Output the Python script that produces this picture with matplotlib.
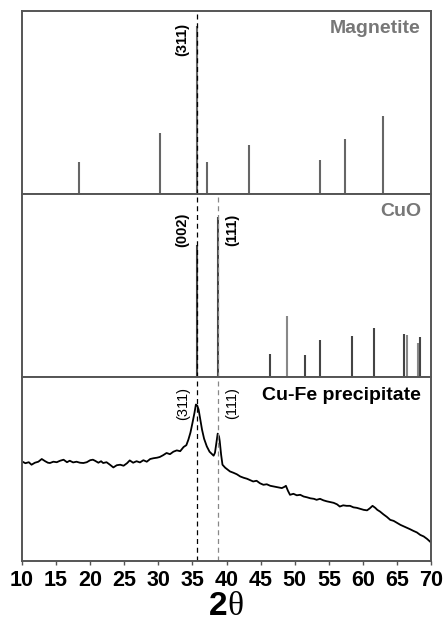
import matplotlib.pyplot as plt
import numpy as np

plt.rcParams['font.family'] = ['Liberation Sans', 'DejaVu Sans']

# reference pattern: magnetite
mag_pos = [18.4, 30.3, 35.6, 37.2, 43.3, 53.7, 57.3, 62.9]
mag_int = [19, 36.6, 100, 19, 29.4, 20, 33, 46.6]

# reference pattern: CuO
cuo_pos = [35.6, 38.8, 46.4, 48.9, 51.5, 53.7, 58.4, 61.6, 66.0, 66.5, 68.0, 68.4]
cuo_int = [82.4, 100, 14.5, 37.9, 13.9, 23, 25.9, 31, 27, 26.5, 21.4, 25.3]
cuo_light = [False, False, False, True, False, False, False, False, False, True, True, False]

# measured pattern: Cu-Fe precipitate
two_theta = [10.0, 10.5, 11.0, 11.4, 11.9, 12.4, 12.9, 13.4, 13.8, 14.1, 14.6, 15.1,
             15.6, 16.1, 16.6, 17.0, 17.5, 18.0, 18.5, 19.0, 19.5, 20.0, 20.4, 20.7,
             21.2, 21.6, 21.9, 22.4, 22.9, 23.4, 23.9, 24.4, 24.9, 25.4, 25.8, 26.3,
             26.8, 27.3, 27.8, 28.3, 28.8, 29.3, 29.8, 30.2, 30.7, 31.2, 31.7, 32.2,
             32.7, 33.2, 33.7, 34.1, 34.4, 34.7, 35.0, 35.3, 35.5, 35.7, 35.9, 36.1,
             36.4, 36.7, 37.1, 37.5, 38.1, 38.3, 38.5, 38.7, 38.9, 39.0, 39.2, 39.4,
             39.8, 40.5, 41.0, 41.5, 42.0, 42.5, 43.0, 43.5, 43.9, 44.4, 44.9, 45.4,
             45.9, 46.4, 46.9, 47.4, 48.1, 48.5, 48.7, 49.0, 49.3, 49.8, 50.3, 50.8,
             51.3, 51.8, 52.3, 52.8, 53.2, 53.7, 54.2, 54.7, 55.2, 55.7, 56.2, 56.6,
             57.1, 57.6, 58.1, 58.6, 59.1, 59.6, 60.1, 60.6, 61.0, 61.4, 61.8, 62.1,
             62.5, 63.0, 63.5, 64.0, 64.5, 65.0, 65.5, 66.0, 66.5, 66.9, 67.4, 67.9,
             68.4, 68.9, 69.4, 70.0]
counts = [99.3, 97.5, 98.5, 96.0, 98.0, 99.0, 101.7, 99.5, 98.0, 97.7, 99.0, 98.5,
          100.0, 101.0, 98.5, 100.0, 98.3, 99.0, 98.0, 97.7, 98.5, 100.5, 101.0, 100.0,
          98.0, 99.5, 97.7, 98.5, 96.0, 93.3, 95.5, 96.0, 95.0, 97.5, 100.3, 98.0,
          99.5, 98.3, 100.5, 99.0, 101.7, 102.5, 103.0, 103.7, 105.5, 107.7, 106.5, 109.0,
          110.3, 109.5, 113.7, 115.5, 121.0, 128.0, 137.7, 148.0, 156.0, 155.0, 151.0, 143.0,
          131.0, 122.0, 114.3, 109.0, 105.0, 108.0, 117.7, 127.0, 124.0, 119.3, 106.0, 96.0,
          93.0, 89.3, 88.0, 86.5, 84.3, 83.0, 82.0, 80.5, 79.3, 80.0, 77.5, 76.0,
          76.5, 75.0, 74.3, 73.5, 72.7, 74.0, 75.0, 70.0, 66.0, 67.0, 65.5, 66.0,
          64.3, 63.5, 62.5, 62.0, 61.0, 62.0, 60.5, 59.5, 58.7, 58.0, 56.5, 54.3,
          55.5, 55.0, 55.0, 53.5, 53.0, 52.0, 51.0, 50.5, 52.5, 55.0, 53.0, 51.0,
          49.3, 46.5, 44.0, 41.0, 40.0, 38.0, 36.0, 34.5, 33.0, 31.7, 30.0, 28.5,
          26.0, 24.5, 22.0, 18.3]

ref_311 = 35.6
ref_111 = 38.8

fig = plt.figure(figsize=(4.44, 6.22), dpi=100)
ax1 = fig.add_axes([0.0495, 0.6881, 0.9216, 0.2942])
ax2 = fig.add_axes([0.0495, 0.3931, 0.9216, 0.2950])
ax3 = fig.add_axes([0.0495, 0.0981, 0.9216, 0.2950])

for ax in (ax1, ax2, ax3):
    ax.set_xlim(10, 70)
    ax.set_yticks([])
    for s in ax.spines.values():
        s.set_color('#555555')
        s.set_linewidth(1.4)
    ax.set_xticks(np.arange(10, 71, 5))
    ax.tick_params(axis='x', direction='out', length=3, width=1, color='#555555')

ax1.tick_params(axis='x', labelbottom=False, length=0)
ax2.tick_params(axis='x', labelbottom=False, length=0)

# Magnetite
ax1.vlines(mag_pos, 0, mag_int, color='#666666', lw=1.5)
ax1.set_ylim(0, 109)
ax1.axvline(ref_311, color='black', ls='--', lw=0.9, dashes=(4, 3))
ax1.text(0.975, 0.95, 'Magnetite', transform=ax1.transAxes, ha='right', va='top',
         fontsize=14, fontweight='bold', color='#777777')
ax1.text(ref_311 - 1.0, 92, '(311)', rotation=90, ha='right', va='center',
         fontsize=10.5, fontweight='bold')

# CuO
cols = ['#888888' if l else '#444444' for l in cuo_light]
ax2.vlines(cuo_pos, 0, cuo_int, colors=cols, lw=1.5)
ax2.set_ylim(0, 114)
ax2.axvline(ref_311, color='black', ls='--', lw=0.9, dashes=(4, 3))
ax2.axvline(ref_111, color='#888888', ls='--', lw=0.9, dashes=(4, 3))
ax2.text(0.975, 0.95, 'CuO', transform=ax2.transAxes, ha='right', va='top',
         fontsize=14, fontweight='bold', color='#777777')
ax2.text(ref_311 - 1.0, 92, '(002)', rotation=90, ha='right', va='center',
         fontsize=10.5, fontweight='bold')
ax2.text(ref_111 + 1.0, 92, '(111)', rotation=90, ha='left', va='center',
         fontsize=10.5, fontweight='bold')

# Cu-Fe precipitate
ax3.plot(two_theta, counts, color='black', lw=1.3)
ax3.set_ylim(0, 183)
ax3.axvline(ref_311, color='black', ls='--', lw=0.9, dashes=(4, 3))
ax3.axvline(ref_111, color='#888888', ls='--', lw=0.9, dashes=(4, 3))
ax3.text(0.975, 0.95, 'Cu-Fe precipitate', transform=ax3.transAxes, ha='right', va='top',
         fontsize=14, fontweight='bold', color='black')
ax3.text(ref_311 - 1.0, 157, '(311)', rotation=90, ha='right', va='center', fontsize=10.5)
ax3.text(ref_111 + 1.0, 157, '(111)', rotation=90, ha='left', va='center', fontsize=10.5)

for lab in ax3.get_xticklabels():
    lab.set_fontweight('bold')
    lab.set_fontsize(15.5)

# axis label: bold "2" + upright serif theta
fig.text(0.512, 0.012, '2', ha='right', va='baseline', fontsize=24, fontweight='bold')
fig.text(0.512, 0.012, 'θ', ha='left', va='baseline', fontsize=24,
         family=['Liberation Serif', 'DejaVu Serif'])

fig.savefig('out.png', dpi=100)
